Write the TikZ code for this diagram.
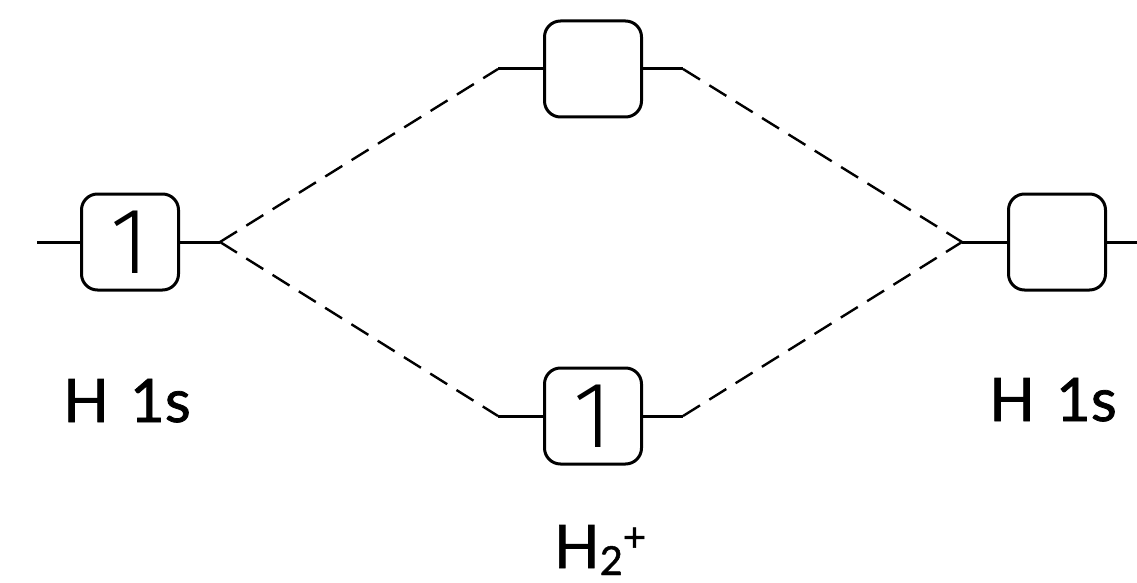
\documentclass[tikz,border=0pt]{standalone}
\usepackage{fontspec}
\setmainfont{Lato}
\newfontfamily\labelfont{Lato}[UprightFeatures={FakeBold=1.2}]
\newfontfamily\digitfont{Fira Sans}[UprightFont={* Light}]
\newcommand{\smallscript}[2]{\raisebox{#1}{\fontsize{40}{40}\selectfont #2}}
\begin{document}
\begin{tikzpicture}[x=1pt,y=-1pt,
  level/.style={draw, line width=3pt, rounded corners=16pt,
    minimum width=97pt, minimum height=96pt, inner sep=0pt,
    font=\digitfont\fontsize{94}{94}\selectfont},
  stub/.style={line width=3pt},
  corr/.style={line width=2.4pt, dash pattern=on 20pt off 11pt},
  lbl/.style={anchor=base, inner sep=0pt, font=\labelfont\fontsize{60}{60}\selectfont}]
\useasboundingbox (0,0) rectangle (1137,583);

% atomic and molecular levels
\node[level] (a1)  at (130,242) {1};
\node[level] (mo2) at (593,69)  {};
\node[level] (mo1) at (593,416) {1};
\node[level] (b1)  at (1057,242) {};

% free ends of the level stubs
\coordinate (a1L)  at (37,242);
\coordinate (a1R)  at (220,242);
\coordinate (mo2L) at (498,69);
\coordinate (mo2R) at (683,69);
\coordinate (mo1L) at (498,416);
\coordinate (mo1R) at (683,416);
\coordinate (b1L)  at (962,242);
\coordinate (b1R)  at (1137,242);

\draw[stub] (a1L) -- (a1.west) (a1.east) -- (a1R);
\draw[stub] (mo2L) -- (mo2.west) (mo2.east) -- (mo2R);
\draw[stub] (mo1L) -- (mo1.west) (mo1.east) -- (mo1R);
\draw[stub] (b1L) -- (b1.west) (b1.east) -- (b1R);

% correlation lines
\draw[corr] (a1R) -- (mo2L);
\draw[corr] (a1R) -- (mo1L);
\draw[corr] (mo2R) -- (b1L);
\draw[corr] (mo1R) -- (b1L);

% labels
\node[lbl] (la) at (127,422) {H\hspace{0.35em}1s};
\node[lbl] (lb) at (1053,421) {H\hspace{0.35em}1s};
\node[lbl] (lm) at (600,568) {H\smallscript{-7pt}{2}\smallscript{17pt}{+}};
\end{tikzpicture}
\end{document}
